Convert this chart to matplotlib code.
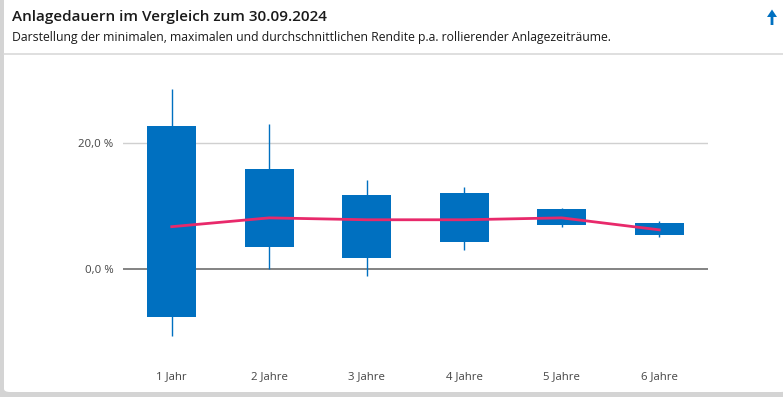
import matplotlib
matplotlib.use("Agg")
import matplotlib.pyplot as plt
from matplotlib.patches import FancyBboxPatch, Rectangle, FancyArrow
from matplotlib.lines import Line2D

# Anlagedauer, Box unten/oben, Min/Max, Durchschnitt (Rendite p.a. in %)
perioden = ["1 Jahr", "2 Jahre", "3 Jahre", "4 Jahre", "5 Jahre", "6 Jahre"]
box_unten = [-7.6, 3.4, 1.8, 4.3, 7.0, 5.4]
box_oben = [22.7, 15.9, 11.7, 12.1, 9.5, 7.3]
minimum = [-10.6, 0.0, -1.2, 3.0, 6.7, 5.1]
maximum = [28.5, 23.0, 14.1, 13.0, 9.7, 7.6]
mittel = [6.7, 8.1, 7.8, 7.8, 8.1, 6.2]
y_ticks = [0, 20]
y_labels = ["0,0 %", "20,0 %"]

BLUE = "#0070c0"
PINK = "#e8296b"
W, H = 783, 397

plt.rcParams["font.family"] = ["Open Sans", "DejaVu Sans"]

fig = plt.figure(figsize=(W / 100, H / 100), dpi=100)
fig.patch.set_facecolor("#d4d4d4")

# white card
card = FancyBboxPatch((4 / W, 5 / H), 1.0, 1.0, boxstyle="round,pad=0,rounding_size=0.008",
                      transform=fig.transFigure, facecolor="white", edgecolor="none", zorder=-5)
fig.patches.append(card)
fig.lines.append(Line2D([4 / W, 1], [1 - 54 / H, 1 - 54 / H], transform=fig.transFigure,
                        color="#d9d9d9", lw=1.2, zorder=-4))

fig.text(12 / W, 1 - 17 / H, "Anlagedauern im Vergleich zum 30.09.2024", fontsize=11,
         fontweight="semibold", color="#1a1a1a", va="center", ha="left")
fig.text(12 / W, 1 - 38 / H,
         "Darstellung der minimalen, maximalen und durchschnittlichen Rendite p.a. rollierender Anlagezeiträume.",
         fontsize=8.85, color="#1a1a1a", va="center", ha="left")
# arrow icon top right (inch coords, 100 px per inch)
arrow = FancyArrow(7.72, 3.72, 0, 0.155, width=0.028, head_width=0.1, head_length=0.075,
                   length_includes_head=True, transform=fig.dpi_scale_trans,
                   facecolor=BLUE, edgecolor="none")
fig.patches.append(arrow)

ax = fig.add_axes([123 / W, 1 - 357 / H, 585 / W, 277 / H])
ax.set_facecolor("none")
ax.set_xlim(-0.5, len(perioden) - 0.5)
ax.set_ylim(-14, 30)

ax.axhline(20, color="#d0d0d0", lw=1, zorder=0)
ax.axhline(0, color="#6e6e6e", lw=1.2, zorder=0)

for i in range(len(perioden)):
    ax.vlines(i, minimum[i], maximum[i], color=BLUE, lw=1, zorder=1)
    ax.add_patch(Rectangle((i - 0.25, box_unten[i]), 0.5, box_oben[i] - box_unten[i],
                           facecolor=BLUE, edgecolor="none", zorder=2))
ax.plot(range(len(perioden)), mittel, color=PINK, lw=2, zorder=3)

ax.set_xticks(range(len(perioden)))
ax.set_xticklabels(perioden, fontsize=8.2, color="#444444")
ax.set_yticks(y_ticks)
ax.set_yticklabels(y_labels, fontsize=8.2, color="#444444")
ax.tick_params(length=0, axis="x", pad=10)
ax.tick_params(length=0, axis="y", pad=7)
for s in ax.spines.values():
    s.set_visible(False)

fig.savefig("out.png", dpi=100, facecolor=fig.get_facecolor())
